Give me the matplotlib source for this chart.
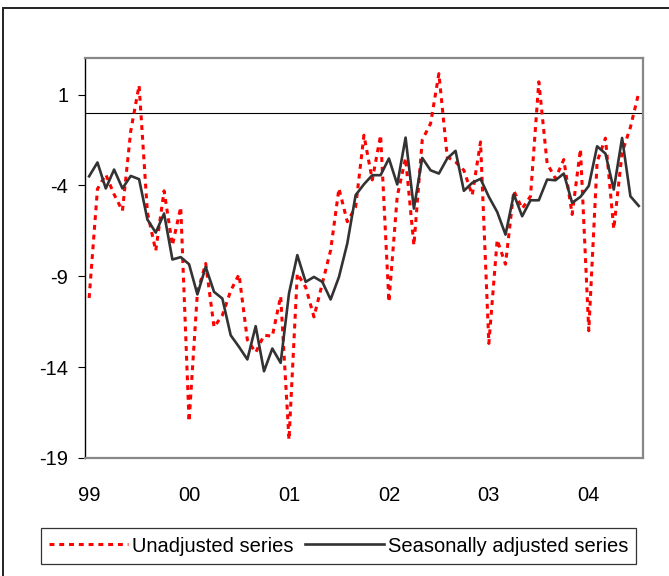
import numpy as np
import matplotlib
matplotlib.use("Agg")
import matplotlib.pyplot as plt
from matplotlib.patches import Rectangle

# monthly series, Jan 1999 .. Jul 2004
unadjusted = [-10.2, -4.2, -3.4, -4.5, -5.4, -1.0, 1.5, -5.5, -7.6, -4.3,
              -7.3, -5.2, -17.0, -9.9, -8.3, -11.8, -11.15, -9.8, -8.9, -12.5,
              -13.2, -12.25, -12.3, -10.1, -18.0, -8.85, -9.6, -11.24, -9.4, -7.57,
              -4.17, -6.0, -5.2, -1.24, -3.7, -1.24, -10.41, -4.6, -2.5, -7.3,
              -1.5, -0.6, 2.15, -2.43, -2.71, -3.17, -4.54, -1.61, -12.7, -7.0,
              -8.34, -4.3, -5.28, -4.6, 1.7, -2.8, -3.62, -2.58, -5.6, -2.0,
              -12.0, -2.7, -1.4, -6.4, -2.2, -0.8, 1.1]
seas_adj = [-3.50, -2.74, -4.17, -3.13, -4.17, -3.48, -3.66, -5.88, -6.60, -5.55,
            -8.08, -7.95, -8.34, -10.0, -8.49, -9.86, -10.23, -12.25, -12.89, -13.58,
            -11.75, -14.23, -12.98, -13.77, -9.95, -7.84, -9.31, -9.04, -9.31, -10.28,
            -9.04, -7.20, -4.54, -3.94, -3.44, -3.44, -2.52, -3.95, -1.37, -5.28,
            -2.49, -3.17, -3.35, -2.52, -2.10, -4.30, -3.86, -3.64, -4.63, -5.46,
            -6.71, -4.49, -5.70, -4.82, -4.82, -3.68, -3.72, -3.35, -4.96, -4.63,
            -4.03, -1.85, -2.25, -4.23, -1.39, -4.60, -5.13]
year_labels = ['99', '00', '01', '02', '03', '04']
y_ticks = [1, -4, -9, -14, -19]

plt.rcParams['font.family'] = ['Liberation Sans', 'DejaVu Sans']

fig = plt.figure(figsize=(6.69, 5.76), dpi=100)
ax = fig.add_axes([0.127, 0.205, 0.834, 0.694])

x = np.arange(len(seas_adj))
ax.axhline(0, color='black', lw=0.8, zorder=1)
l1, = ax.plot(x, unadjusted, color='#ff0000', lw=2.2, dashes=(1.6, 1.6),
              label='Unadjusted series', zorder=2)
l2, = ax.plot(x, seas_adj, color='#333333', lw=1.9, label='Seasonally adjusted series',
              zorder=3)

ax.set_xlim(-0.5, len(seas_adj) - 0.5)
ax.set_ylim(-19, 3)
ax.set_yticks(y_ticks)
ax.set_yticklabels([str(v) for v in y_ticks])
ax.set_xticks(np.arange(len(year_labels)) * 12)
ax.set_xticklabels(year_labels)
ax.tick_params(axis='y', direction='out', length=5, width=0.8, pad=7, labelsize=14.5)
ax.tick_params(axis='x', length=0, pad=20, labelsize=14.5)

for s in ['top', 'right', 'bottom']:
    ax.spines[s].set_color('#888888')
    ax.spines[s].set_linewidth(1.6)
ax.spines['left'].set_color('black')
ax.spines['left'].set_linewidth(1.0)

leg = fig.legend(handles=[l1, l2], loc='center', bbox_to_anchor=(0.506, 0.052),
                 ncol=2, fontsize=14.5, frameon=True, fancybox=False,
                 handlelength=3.9, handletextpad=0.2, columnspacing=0.6,
                 borderpad=0.4, borderaxespad=0)
leg.get_frame().set_edgecolor('black')
leg.get_frame().set_linewidth(0.9)

# outer chart frame (cut off at right and bottom)
fig.patches.append(Rectangle((3 / 669, -0.1), 1.2, 1.1 - 8 / 576, transform=fig.transFigure,
                             fill=False, edgecolor='#222222', lw=1.4))

fig.savefig('out.png', dpi=100)
